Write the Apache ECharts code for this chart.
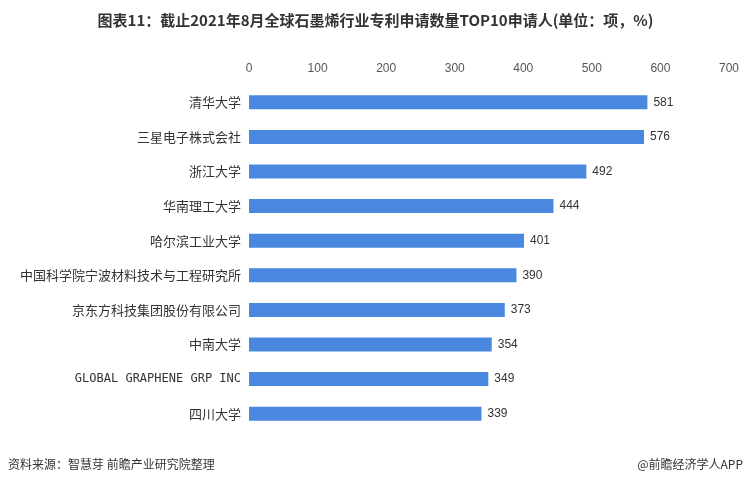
<!DOCTYPE html>
<html><head><meta charset="utf-8">
<script src="https://cdn.jsdelivr.net/npm/echarts@6/dist/echarts.min.js"></script>
<style>html,body{margin:0;padding:0;background:#fff}#c{width:751px;height:488px}</style>
</head><body><div id="c"></div>
<script>
const categories = ["清华大学","三星电子株式会社","浙江大学","华南理工大学","哈尔滨工业大学","中国科学院宁波材料技术与工程研究所","京东方科技集团股份有限公司","中南大学","GLOBAL GRAPHENE GRP INC","四川大学"];
const values = [581,576,492,444,401,390,373,354,349,339];
const chart = echarts.init(document.getElementById('c'));
chart.setOption({
  animation:false,
  title:{text:"图表11：截止2021年8月全球石墨烯行业专利申请数量TOP10申请人(单位：项，%)",left:'center',top:8,
    textStyle:{fontSize:15,fontWeight:'bold',color:'#333',fontFamily:'Noto Sans CJK SC'}},
  graphic:[
    {type:'text',left:8,top:458,style:{text:'资料来源：智慧芽 前瞻产业研究院整理',fontSize:12,fill:'#333',fontFamily:'Noto Sans CJK SC'}},
    {type:'text',right:8,top:458,style:{text:'@前瞻经济学人APP',fontSize:12,fill:'#333',fontFamily:'Noto Sans CJK SC'}}
  ],
  grid:{left:249,right:22,top:85,bottom:57},
  xAxis:{type:'value',position:'top',min:0,max:700,interval:100,
    axisLine:{show:false},axisTick:{show:false},splitLine:{show:false},
    axisLabel:{color:'#555',fontSize:12,margin:10}},
  yAxis:{type:'category',inverse:true,data:categories,
    axisLine:{show:false},axisTick:{show:false},
    axisLabel:{color:'#333',fontSize:13,margin:8,fontFamily:'Noto Sans CJK SC',
      formatter:v=>/^[A-Z ]+$/.test(v)?'{m|'+v+'}':v,
      rich:{m:{fontFamily:'DejaVu Sans Mono',fontSize:12,color:'#333'}}}},
  series:[{type:'bar',data:values,barWidth:14,itemStyle:{color:'#4a87df'},
    label:{show:true,position:'right',color:'#333',fontSize:12,distance:6}}]
});
</script></body></html>
